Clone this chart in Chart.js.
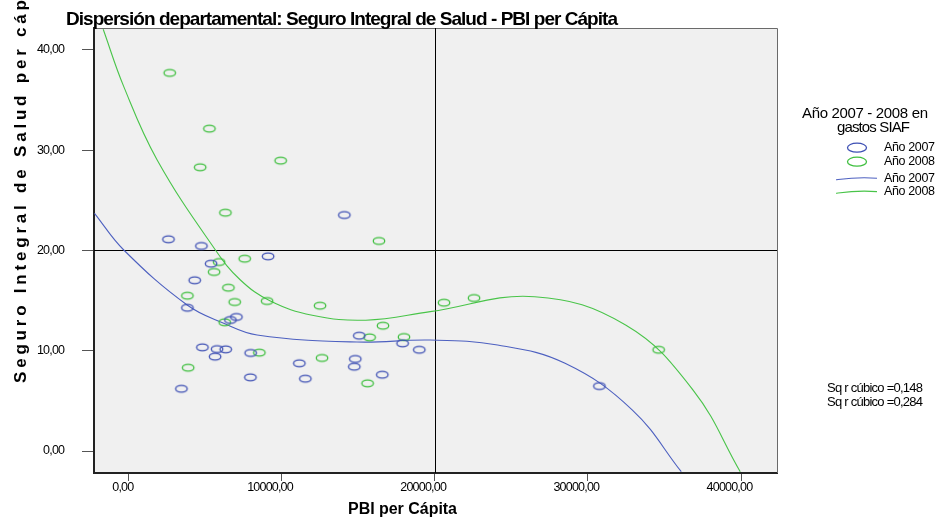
<!DOCTYPE html>
<html><head><meta charset="utf-8">
<script src="https://cdn.jsdelivr.net/npm/chart.js@4"></script>
<style>html,body{margin:0;padding:0;background:#fff}canvas{display:block}</style>
</head><body>
<canvas id="c" width="943" height="517"></canvas>
<script>
// ---- data ----
const pbi2007 = [2610, 4763, 14095, 9116, 5396, 4326, 3850, 7047, 6656, 15073, 17899, 18989, 4829, 5788, 6349, 5657, 7980, 11158, 14812, 14747, 16574, 7961, 11550, 3458, 30754];
const sis2007 = [21.12, 20.45, 23.54, 19.42, 18.68, 17.03, 14.29, 13.37, 13.07, 11.50, 10.74, 10.10, 10.34, 10.17, 10.14, 9.41, 9.78, 8.75, 9.18, 8.41, 7.61, 7.35, 7.21, 6.21, 6.48];
const pbi2008 = [2695, 5285, 4679, 9938, 6330, 16359, 5918, 7589, 5592, 6525, 3850, 6936, 9051, 12509, 6284, 16620, 15746, 17990, 8548, 12640, 3896, 15615, 20607, 22564, 34623];
const sis2008 = [37.71, 32.15, 28.30, 28.96, 23.77, 20.95, 18.85, 19.18, 17.86, 16.29, 15.49, 14.86, 14.96, 14.49, 12.84, 12.50, 11.34, 11.37, 9.81, 9.28, 8.31, 6.75, 14.79, 15.26, 10.10];
// cubic fit curves as drawn in the reference
const fit2007X = [-2219, -307, 3830, 6219, 8398, 14923, 19706, 24104, 28509, 32907, 36098];
const fit2007Y = [23.71, 20.05, 14.56, 12.74, 11.57, 10.87, 11.07, 10.57, 8.75, 4.09, -2.06];
const fit2008X = [-1651, -307, 1873, 5677, 7308, 9266, 12000, 15500, 19706, 26525, 32463, 36868, 39948];
const fit2008Y = [42.06, 36.34, 29.03, 20.05, 17.06, 14.96, 13.55, 13.05, 13.90, 15.39, 12.57, 6.08, -2.06];
const xTicks = [0, 10000, 20000, 30000, 40000];
const xTickLabels = ['0,00', '10000,00', '20000,00', '30000,00', '40000,00'];
const yTicks = [0, 10, 20, 30, 40];
const yTickLabels = ['0,00', '10,00', '20,00', '30,00', '40,00'];
const refX = 20000, refY = 20;
const xRange = [-2251, 42349];
const yRange = [-2.19, 42.19];
const titleText = 'Dispersión departamental: Seguro Integral de Salud - PBI per Cápita';
const xTitle = 'PBI per Cápita';
const yTitle = 'Seguro Integral de Salud per cápita';
const legendTitle = ['Año 2007 - 2008 en', 'gastos SIAF'];
const legendLabels = ['Año 2007', 'Año 2008', 'Año 2007', 'Año 2008'];
const rSquared = ['Sq r cúbico =0,148', 'Sq r cúbico =0,284'];

// ---- styling ----
const BLUE = '#3e50b4', GREEN = '#3fbf3f';
const BLUE_L = '#4d60c0', GREEN_L = '#49c449';
const FONT = '"Liberation Sans", Arial, sans-serif';

function marker(color, w, h, lw) {
  const c = document.createElement('canvas');
  c.width = Math.ceil(w + 4); c.height = Math.ceil(h + 4);
  const g = c.getContext('2d');
  g.strokeStyle = color; g.lineWidth = lw;
  g.beginPath(); g.ellipse(c.width / 2, c.height / 2, w / 2, h / 2, 0, 0, Math.PI * 2); g.stroke();
  return c;
}

function txt(ctx, s, font, x, y, o = {}) {
  ctx.save();
  ctx.font = font;
  ctx.fillStyle = o.color || '#000';
  ctx.textBaseline = o.baseline || 'alphabetic';
  ctx.textAlign = 'left';
  try { ctx.letterSpacing = '0px'; } catch (e) {}
  const nat = ctx.measureText(s).width;
  const n = [...s].length;
  let ls = o.ls || 0;
  if (o.width) ls = (o.width - nat) / Math.max(n - 1, 1);
  try { ctx.letterSpacing = ls + 'px'; } catch (e) {}
  const w = nat + ls * (n - 1);
  let left = x;
  if (o.align === 'right') left = x - w;
  else if (o.align === 'center') left = x - w / 2;
  else if (typeof o.align === 'number') left = x - w * o.align;
  ctx.fillText(s, left, y);
  ctx.restore();
  return w;
}

const decor = {
  id: 'decor',
  beforeDraw(chart) {
    const { ctx, chartArea: a } = chart;
    ctx.save();
    ctx.fillStyle = '#f0f0f0';
    ctx.fillRect(a.left, a.top, a.right - a.left, a.bottom - a.top);
    ctx.restore();
  },
  beforeDatasetsDraw(chart) {
    const { ctx, chartArea: a, scales } = chart;
    ctx.save();
    ctx.strokeStyle = '#6a6a6a'; ctx.lineWidth = 1;
    ctx.beginPath();
    ctx.moveTo(a.left, a.top + 0.5); ctx.lineTo(a.right + 0.5, a.top + 0.5); ctx.lineTo(a.right + 0.5, a.bottom);
    ctx.stroke();
    // reference lines
    ctx.strokeStyle = '#000';
    const rx = Math.round(scales.x.getPixelForValue(refX)) + 0.5;
    const ry = Math.round(scales.y.getPixelForValue(refY)) + 0.5;
    ctx.beginPath();
    ctx.moveTo(rx, a.top); ctx.lineTo(rx, a.bottom);
    ctx.moveTo(a.left, ry); ctx.lineTo(a.right, ry);
    ctx.stroke();
    ctx.restore();
  },
  afterDraw(chart) {
    const { ctx, scales } = chart;
    const tickFont = '12.5px ' + FONT;
    yTicks.forEach((v, i) => {
      txt(ctx, yTickLabels[i], tickFont, 65, scales.y.getPixelForValue(v), { baseline: 'middle', align: 'right', ls: -0.8 });
    });
    xTicks.forEach((v, i) => {
      txt(ctx, xTickLabels[i], tickFont, scales.x.getPixelForValue(v), 488, { baseline: 'middle', align: 0.74, ls: -0.8 });
    });
    // titles
    txt(ctx, titleText, 'bold 19px ' + FONT, 66, 25, { width: 552 });
    txt(ctx, xTitle, 'bold 16px ' + FONT, 348, 513.5, { width: 109 });
    // y title rotated
    ctx.save();
    ctx.font = 'bold 17px ' + FONT;
    ctx.fillStyle = '#000';
    ctx.translate(25.5, 383); ctx.rotate(-Math.PI / 2);
    try { ctx.letterSpacing = '0px'; } catch (e) {}
    const part = 'Seguro Integral de Salud per cáp';
    const nat = ctx.measureText(part).width;
    const ls = (383 - nat) / (part.length - 1);
    try { ctx.letterSpacing = ls + 'px'; } catch (e) {}
    ctx.textAlign = 'left'; ctx.textBaseline = 'alphabetic';
    ctx.fillText(yTitle, 0, 0);
    ctx.restore();
    // legend
    txt(ctx, legendTitle[0], '15px ' + FONT, 802, 117.5, { width: 126 });
    txt(ctx, legendTitle[1], '15px ' + FONT, 837, 131.5, { width: 73 });
    ctx.save();
    ctx.lineWidth = 1.3;
    ctx.strokeStyle = BLUE;
    ctx.beginPath(); ctx.ellipse(857, 147.7, 9.5, 4.5, 0, 0, Math.PI * 2); ctx.stroke();
    ctx.strokeStyle = GREEN;
    ctx.beginPath(); ctx.ellipse(857, 161.7, 9.5, 4.5, 0, 0, Math.PI * 2); ctx.stroke();
    ctx.lineWidth = 1.1;
    ctx.strokeStyle = BLUE_L;
    ctx.beginPath(); ctx.moveTo(836, 179.8); ctx.bezierCurveTo(848, 178.2, 858, 176.6, 877, 178.2); ctx.stroke();
    ctx.strokeStyle = GREEN_L;
    ctx.beginPath(); ctx.moveTo(836, 193.2); ctx.bezierCurveTo(848, 191.6, 858, 190, 877, 191.6); ctx.stroke();
    ctx.restore();
    const ly = [147.7, 161.7, 178.3, 191.7];
    legendLabels.forEach((s, i) => txt(ctx, s, '12.5px ' + FONT, 884, ly[i], { baseline: 'middle', width: 51 }));
    txt(ctx, rSquared[0], '13px ' + FONT, 827, 388.5, { baseline: 'middle', width: 96 });
    txt(ctx, rSquared[1], '13px ' + FONT, 827, 402.5, { baseline: 'middle', width: 96 });
  }
};

const toXY = (xs, ys) => xs.map((x, i) => ({ x, y: ys[i] }));

new Chart(document.getElementById('c'), {
  type: 'scatter',
  data: {
    datasets: [
      { label: legendLabels[0], data: toXY(pbi2007, sis2007), pointStyle: marker(BLUE, 11.5, 6.8, 1.3), pointRadius: 6 },
      { label: legendLabels[1], data: toXY(pbi2008, sis2008), pointStyle: marker(GREEN, 11.5, 6.8, 1.3), pointRadius: 6 },
      { label: legendLabels[2], data: toXY(fit2007X, fit2007Y), showLine: true, borderColor: BLUE_L, borderWidth: 1.1, pointRadius: 0, tension: 0.4, fill: false },
      { label: legendLabels[3], data: toXY(fit2008X, fit2008Y), showLine: true, borderColor: GREEN_L, borderWidth: 1.1, pointRadius: 0, tension: 0.4, fill: false }
    ]
  },
  options: {
    responsive: false,
    devicePixelRatio: 1,
    animation: false,
    events: [],
    layout: { padding: { left: 0, top: 28, right: 166, bottom: 0 } },
    plugins: { legend: { display: false }, title: { display: false }, tooltip: { enabled: false } },
    scales: {
      x: {
        type: 'linear', min: xRange[0], max: xRange[1],
        afterFit: s => { s.height = 44; },
        afterBuildTicks: s => { s.ticks = xTicks.map(v => ({ value: v })); },
        ticks: { display: false },
        grid: { drawOnChartArea: false, drawTicks: true, tickLength: 8, tickColor: '#555', tickWidth: 1 },
        border: { display: true, color: '#222', width: 2 }
      },
      y: {
        type: 'linear', min: yRange[0], max: yRange[1],
        afterFit: s => { s.width = 94; },
        afterBuildTicks: s => { s.ticks = yTicks.map(v => ({ value: v })); },
        ticks: { display: false },
        grid: { drawOnChartArea: false, drawTicks: true, tickLength: 12, tickColor: '#555', tickWidth: 1 },
        border: { display: true, color: '#222', width: 2 }
      }
    }
  },
  plugins: [decor]
});
</script>
</body></html>
